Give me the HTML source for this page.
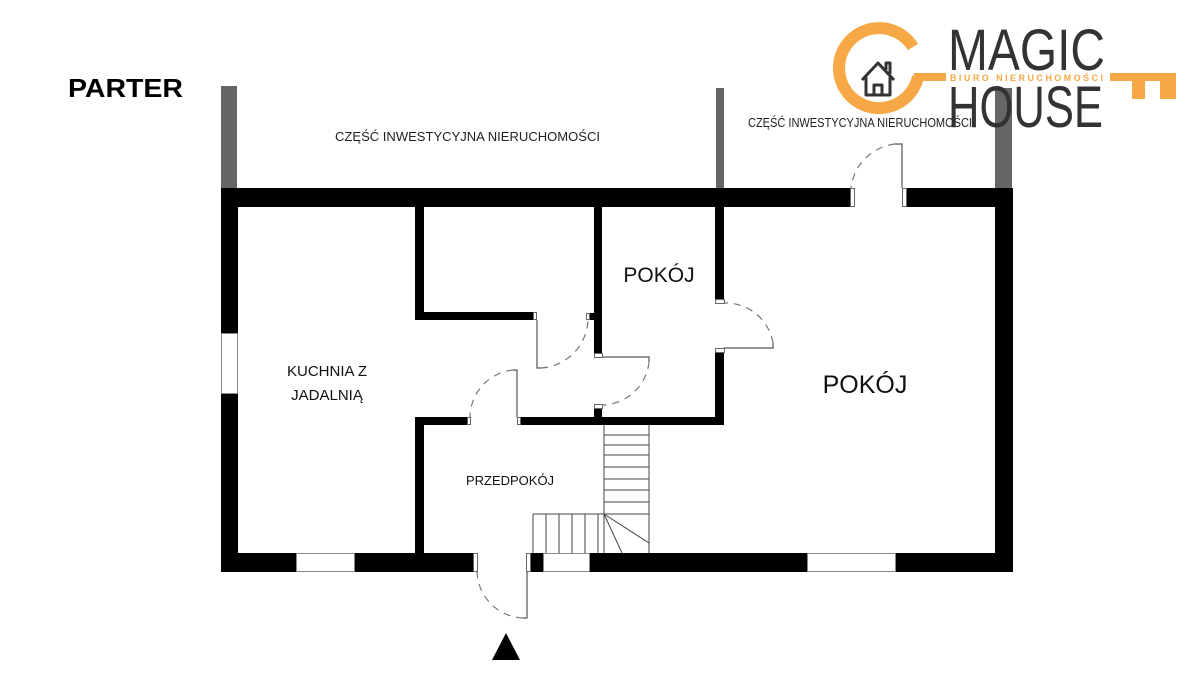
<!DOCTYPE html>
<html><head><meta charset="utf-8"><style>
html,body{margin:0;padding:0;background:#fff;}
svg{display:block}
text{font-family:"Liberation Sans","DejaVu Sans",sans-serif;}
</style></head><body>
<svg width="1200" height="675" viewBox="0 0 1200 675" xmlns="http://www.w3.org/2000/svg">
<rect width="1200" height="675" fill="#fff"/>
<rect x="221" y="86" width="16" height="102" fill="#666"/>
<rect x="716" y="88" width="8" height="100" fill="#666"/>
<rect x="995" y="88" width="17" height="100" fill="#666"/>
<g fill="#000">
<rect x="221" y="188" width="629" height="19"/>
<rect x="905" y="188" width="108" height="19"/>
<rect x="221" y="188" width="17" height="145"/>
<rect x="221" y="393" width="17" height="179"/>
<rect x="995" y="188" width="18" height="384"/>
<rect x="221" y="553" width="75" height="19"/>
<rect x="355" y="553" width="118" height="19"/>
<rect x="530" y="553" width="13" height="19"/>
<rect x="590" y="553" width="217" height="19"/>
<rect x="895" y="553" width="118" height="19"/>
<rect x="415" y="207" width="9" height="113"/>
<rect x="415" y="312" width="119" height="8"/>
<rect x="594" y="207" width="8" height="147"/>
<rect x="586" y="313" width="8" height="7"/>
<rect x="715" y="207" width="9" height="93"/>
<rect x="715" y="352" width="9" height="73"/>
<rect x="520" y="417" width="204" height="8"/>
<rect x="594" y="408" width="8" height="10"/>
<rect x="415" y="417" width="53" height="8"/>
<rect x="415" y="417" width="9" height="136"/>
</g>
<g fill="#fff" stroke="#888" stroke-width="1">
<rect x="221.5" y="333.5" width="16" height="60"/>
<rect x="296.5" y="553.5" width="58" height="18"/>
<rect x="543.5" y="553.5" width="46" height="18"/>
<rect x="807.5" y="553.5" width="88" height="18"/>
</g>
<g fill="#fff" stroke="#666" stroke-width="1">
<rect x="850.5" y="188.5" width="4" height="18"/>
<rect x="902.5" y="188.5" width="4" height="18"/>
<rect x="533.5" y="312.5" width="3" height="7"/>
<rect x="586.5" y="313.5" width="3" height="6"/>
<rect x="594.5" y="353.5" width="8" height="4"/>
<rect x="594.5" y="404.5" width="8" height="4"/>
<rect x="715.5" y="299.5" width="9" height="4"/>
<rect x="715.5" y="348.5" width="9" height="4"/>
<rect x="467.5" y="417.5" width="3" height="7"/>
<rect x="517.5" y="417.5" width="3" height="7"/>
<rect x="473.5" y="553.5" width="4" height="18"/>
<rect x="526.5" y="553.5" width="4" height="18"/>
</g>
<g fill="none" stroke="#555" stroke-width="1.2">
<polyline points="902,188 902,144 895,144"/>
<polyline points="537,320 537,368 541,368"/>
<polyline points="602,357 649,357 649,362"/>
<polyline points="724,348 773,348 773,343"/>
<polyline points="517,417 517,370 513,370"/>
<polyline points="527,572 527,618 523,618"/>
</g>
<g fill="none" stroke="#777" stroke-width="1.2" stroke-dasharray="7,6">
<path d="M895,144 A50,50 0 0 0 851,188"/>
<path d="M541,368 A50,50 0 0 0 588,320"/>
<path d="M649,362 A48,48 0 0 1 602,405"/>
<path d="M773,343 A48,48 0 0 0 724,303"/>
<path d="M513,370 A48,48 0 0 0 470,417"/>
<path d="M523,618 A48,48 0 0 1 477,572"/>
</g>
<g fill="none" stroke="#444" stroke-width="1">
<line x1="604" y1="425" x2="604" y2="553"/>
<line x1="649" y1="425" x2="649" y2="553"/>
<line x1="604" y1="435" x2="649" y2="435"/>
<line x1="604" y1="445" x2="649" y2="445"/>
<line x1="604" y1="455" x2="649" y2="455"/>
<line x1="604" y1="467" x2="649" y2="467"/>
<line x1="604" y1="479" x2="649" y2="479"/>
<line x1="604" y1="490" x2="649" y2="490"/>
<line x1="604" y1="502" x2="649" y2="502"/>
<line x1="533" y1="514" x2="649" y2="514"/>
<line x1="533" y1="514" x2="533" y2="553"/>
<line x1="546" y1="514" x2="546" y2="553"/>
<line x1="559" y1="514" x2="559" y2="553"/>
<line x1="572" y1="514" x2="572" y2="553"/>
<line x1="585" y1="514" x2="585" y2="553"/>
<line x1="598" y1="514" x2="598" y2="553"/>
<line x1="604" y1="514" x2="622" y2="553"/>
<line x1="604" y1="514" x2="649" y2="543"/>
</g>
<polygon points="492,660 520,660 506,633" fill="#000"/>
<text x="68" y="97" font-size="26" font-weight="bold" fill="#000" textLength="115" lengthAdjust="spacingAndGlyphs">PARTER</text>
<text x="335" y="141" font-size="13" fill="#222" textLength="265" lengthAdjust="spacingAndGlyphs">CZĘŚĆ INWESTYCYJNA NIERUCHOMOŚCI</text>
<text x="748" y="127" font-size="13" fill="#222" textLength="224" lengthAdjust="spacingAndGlyphs">CZĘŚĆ INWESTYCYJNA NIERUCHOMOŚCI</text>
<text x="659" y="282" font-size="21" fill="#111" text-anchor="middle">POKÓJ</text>
<text x="865" y="393" font-size="25" fill="#111" text-anchor="middle">POKÓJ</text>
<text x="327" y="376" font-size="15" fill="#111" text-anchor="middle">KUCHNIA Z</text>
<text x="327" y="400" font-size="15" fill="#111" text-anchor="middle">JADALNIĄ</text>
<text x="510" y="485" font-size="13" fill="#111" text-anchor="middle">PRZEDPOKÓJ</text>
<!-- logo -->
<path d="M913,47 A40,40 0 1 0 918,77" fill="none" stroke="#f5a845" stroke-width="12"/>
<rect x="914" y="73" width="32" height="8" fill="#f5a845"/>
<rect x="1110" y="73" width="66" height="8" fill="#f5a845"/>
<rect x="1132" y="73" width="13" height="26" fill="#f5a845"/>
<rect x="1160" y="73" width="16" height="26" fill="#f5a845"/>
<g fill="none" stroke="#333" stroke-width="3" stroke-linejoin="round">
<polyline points="862,80 878,63 894,80"/>
<polyline points="866,77 866,95 890,95 890,77"/>
<rect x="874" y="85" width="8" height="10"/>
<polyline points="886,70 886,63 890,63 890,74"/>
</g>
<text x="948" y="70" font-size="58" fill="#333" textLength="157" lengthAdjust="spacingAndGlyphs">MAGIC</text>
<text x="948" y="127" font-size="58" fill="#333" textLength="155" lengthAdjust="spacingAndGlyphs">HOUSE</text>
<text x="950" y="81" font-size="9" fill="#f5a845" font-weight="bold" textLength="153" lengthAdjust="spacing">BIURO NIERUCHOMOŚCI</text>
</svg>
</body></html>
